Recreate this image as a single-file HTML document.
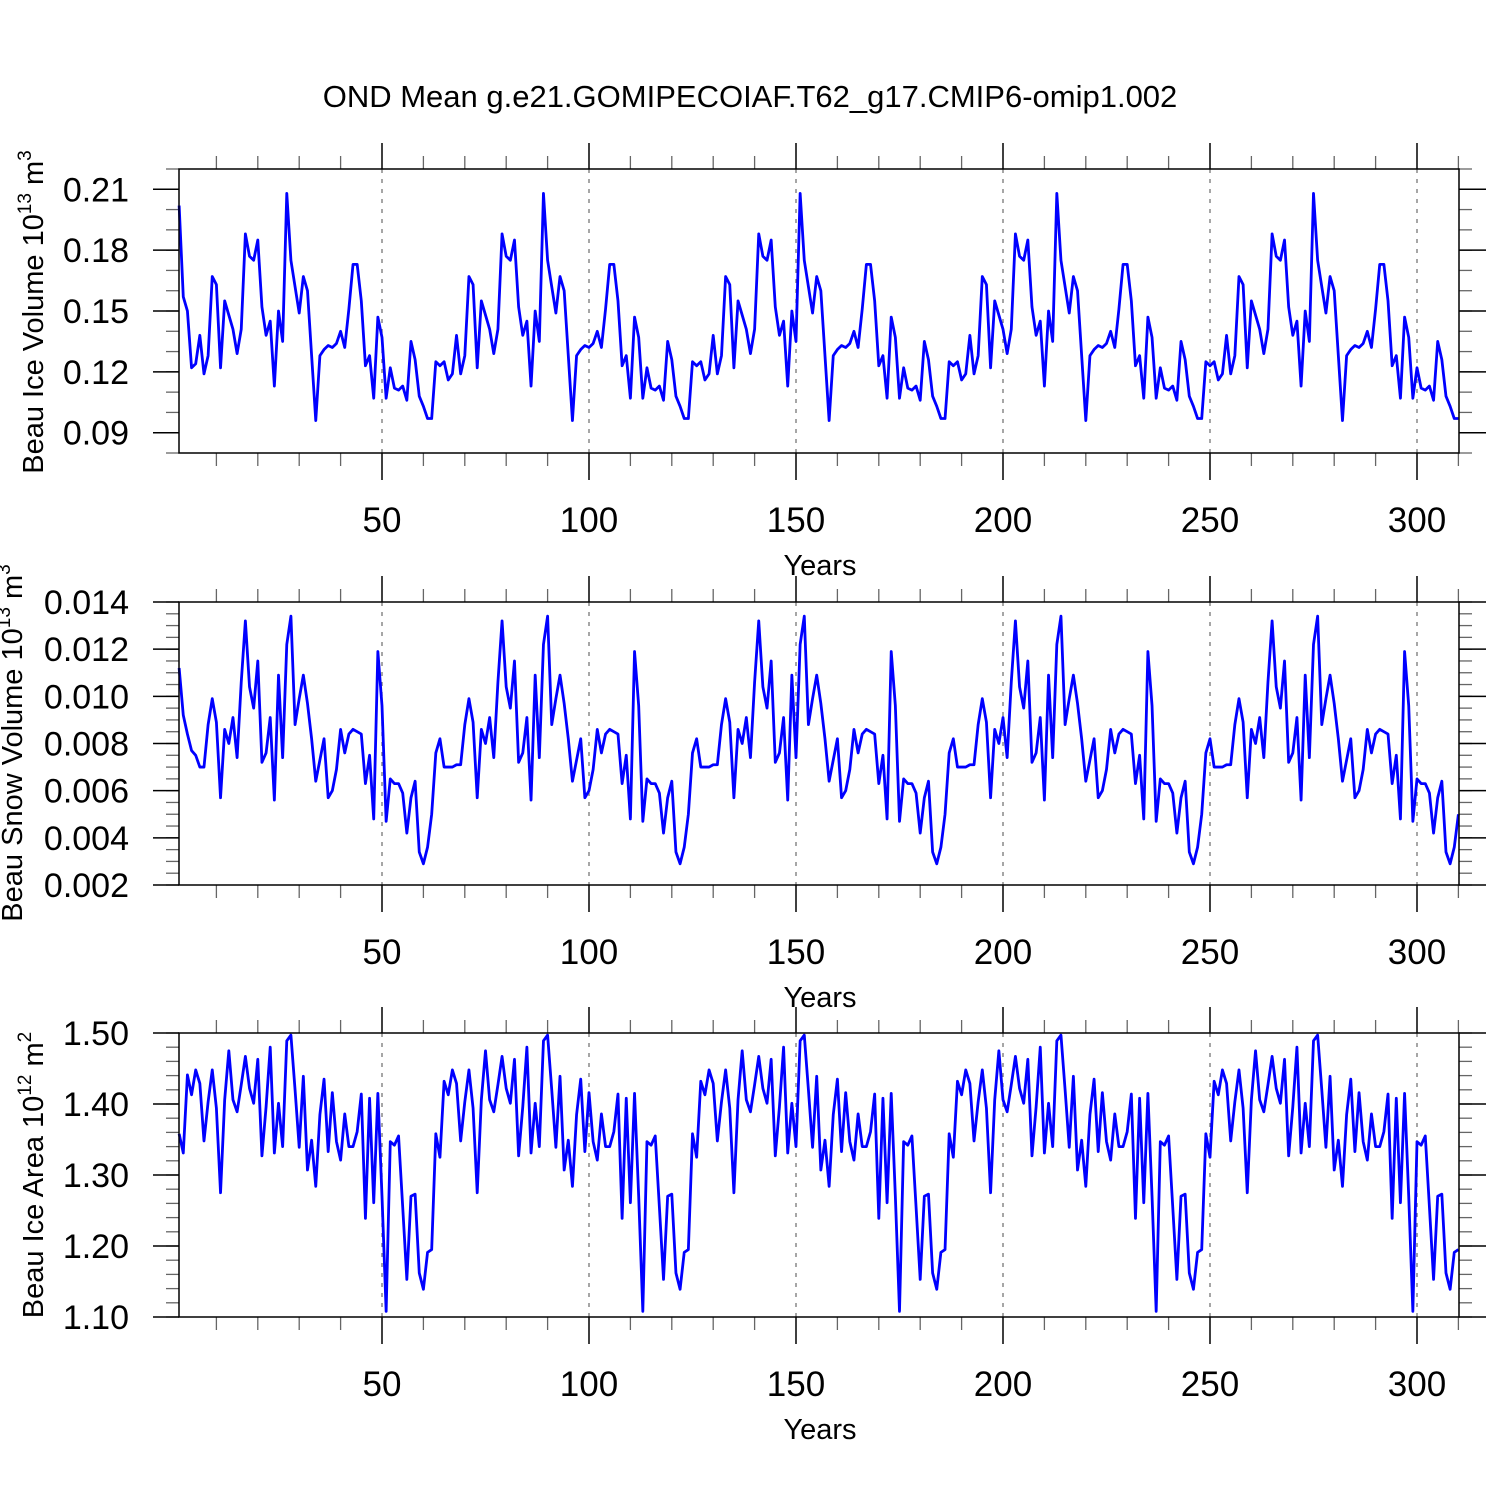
<!DOCTYPE html>
<html><head><meta charset="utf-8"><style>
html,body{margin:0;padding:0;background:#fff;}
svg{display:block;font-family:"Liberation Sans",Arial,sans-serif;}
</style></head><body>
<svg id="chart" width="1500" height="1500" viewBox="0 0 1500 1500" xmlns="http://www.w3.org/2000/svg">
<rect width="1500" height="1500" fill="#fff"/>
<text x="750" y="107" font-size="31" text-anchor="middle">OND Mean g.e21.GOMIPECOIAF.T62_g17.CMIP6-omip1.002</text>
</svg>
<script>
const xTickValues = [50, 100, 150, 200, 250, 300];
const iceVolTicks = [0.09, 0.12, 0.15, 0.18, 0.21];
const iceVolTickLabels = ["0.09", "0.12", "0.15", "0.18", "0.21"];
const snowVolTicks = [0.002, 0.004, 0.006, 0.008, 0.010, 0.012, 0.014];
const snowVolTickLabels = ["0.002", "0.004", "0.006", "0.008", "0.010", "0.012", "0.014"];
const iceAreaTicks = [1.10, 1.20, 1.30, 1.40, 1.50];
const iceAreaTickLabels = ["1.10", "1.20", "1.30", "1.40", "1.50"];

const iceVolume = [
0.202,0.157,0.150,0.122,0.124,0.138,0.119,0.128,0.167,0.163,0.122,0.155,0.148,0.141,0.129,0.141,0.188,0.177,0.175,0.185,0.152,0.138,0.145,0.113,0.150,0.135,0.208,0.175,0.162,0.149,0.167,0.160,0.128,0.096,0.128,0.131,0.133,0.132,0.134,0.140,0.132,0.151,0.173,0.173,0.155,0.123,0.128,0.107,0.147,0.137,0.107,0.122,0.112,0.111,0.113,0.106,0.135,0.126,0.108,0.103,0.097,0.097,
0.125,0.123,0.125,0.116,0.119,0.138,0.119,0.128,0.167,0.163,0.122,0.155,0.148,0.141,0.129,0.141,0.188,0.177,0.175,0.185,0.152,0.138,0.145,0.113,0.150,0.135,0.208,0.175,0.162,0.149,0.167,0.160,0.128,0.096,0.128,0.131,0.133,0.132,0.134,0.140,0.132,0.151,0.173,0.173,0.155,0.123,0.128,0.107,0.147,0.137,0.107,0.122,0.112,0.111,0.113,0.106,0.135,0.126,0.108,0.103,0.097,0.097,
0.125,0.123,0.125,0.116,0.119,0.138,0.119,0.128,0.167,0.163,0.122,0.155,0.148,0.141,0.129,0.141,0.188,0.177,0.175,0.185,0.152,0.138,0.145,0.113,0.150,0.135,0.208,0.175,0.162,0.149,0.167,0.160,0.128,0.096,0.128,0.131,0.133,0.132,0.134,0.140,0.132,0.151,0.173,0.173,0.155,0.123,0.128,0.107,0.147,0.137,0.107,0.122,0.112,0.111,0.113,0.106,0.135,0.126,0.108,0.103,0.097,0.097,
0.125,0.123,0.125,0.116,0.119,0.138,0.119,0.128,0.167,0.163,0.122,0.155,0.148,0.141,0.129,0.141,0.188,0.177,0.175,0.185,0.152,0.138,0.145,0.113,0.150,0.135,0.208,0.175,0.162,0.149,0.167,0.160,0.128,0.096,0.128,0.131,0.133,0.132,0.134,0.140,0.132,0.151,0.173,0.173,0.155,0.123,0.128,0.107,0.147,0.137,0.107,0.122,0.112,0.111,0.113,0.106,0.135,0.126,0.108,0.103,0.097,0.097,
0.125,0.123,0.125,0.116,0.119,0.138,0.119,0.128,0.167,0.163,0.122,0.155,0.148,0.141,0.129,0.141,0.188,0.177,0.175,0.185,0.152,0.138,0.145,0.113,0.150,0.135,0.208,0.175,0.162,0.149,0.167,0.160,0.128,0.096,0.128,0.131,0.133,0.132,0.134,0.140,0.132,0.151,0.173,0.173,0.155,0.123,0.128,0.107,0.147,0.137,0.107,0.122,0.112,0.111,0.113,0.106,0.135,0.126,0.108,0.103,0.097,0.097];

const snowVolume = [
0.0112,0.0092,0.0084,0.0077,0.0075,0.0070,0.0070,0.0088,0.0099,0.0089,0.0057,0.0086,0.0080,0.0091,0.0074,0.0106,0.0132,0.0104,0.0095,0.0115,0.0072,0.0076,0.0091,0.0056,0.0109,0.0074,0.0122,0.0134,0.0088,0.0099,0.0109,0.0097,0.0082,0.0064,0.0073,0.0082,0.0057,0.0060,0.0069,0.0086,0.0076,0.0084,0.0086,0.0085,0.0084,0.0063,0.0075,0.0048,0.0119,0.0096,0.0047,0.0065,0.0063,0.0063,0.0059,0.0042,0.0057,0.0064,0.0034,0.0029,0.0036,0.0050,
0.0076,0.0082,0.0070,0.0070,0.0070,0.0071,0.0071,0.0088,0.0099,0.0089,0.0057,0.0086,0.0080,0.0091,0.0074,0.0106,0.0132,0.0104,0.0095,0.0115,0.0072,0.0076,0.0091,0.0056,0.0109,0.0074,0.0122,0.0134,0.0088,0.0099,0.0109,0.0097,0.0082,0.0064,0.0073,0.0082,0.0057,0.0060,0.0069,0.0086,0.0076,0.0084,0.0086,0.0085,0.0084,0.0063,0.0075,0.0048,0.0119,0.0096,0.0047,0.0065,0.0063,0.0063,0.0059,0.0042,0.0057,0.0064,0.0034,0.0029,0.0036,0.0050,
0.0076,0.0082,0.0070,0.0070,0.0070,0.0071,0.0071,0.0088,0.0099,0.0089,0.0057,0.0086,0.0080,0.0091,0.0074,0.0106,0.0132,0.0104,0.0095,0.0115,0.0072,0.0076,0.0091,0.0056,0.0109,0.0074,0.0122,0.0134,0.0088,0.0099,0.0109,0.0097,0.0082,0.0064,0.0073,0.0082,0.0057,0.0060,0.0069,0.0086,0.0076,0.0084,0.0086,0.0085,0.0084,0.0063,0.0075,0.0048,0.0119,0.0096,0.0047,0.0065,0.0063,0.0063,0.0059,0.0042,0.0057,0.0064,0.0034,0.0029,0.0036,0.0050,
0.0076,0.0082,0.0070,0.0070,0.0070,0.0071,0.0071,0.0088,0.0099,0.0089,0.0057,0.0086,0.0080,0.0091,0.0074,0.0106,0.0132,0.0104,0.0095,0.0115,0.0072,0.0076,0.0091,0.0056,0.0109,0.0074,0.0122,0.0134,0.0088,0.0099,0.0109,0.0097,0.0082,0.0064,0.0073,0.0082,0.0057,0.0060,0.0069,0.0086,0.0076,0.0084,0.0086,0.0085,0.0084,0.0063,0.0075,0.0048,0.0119,0.0096,0.0047,0.0065,0.0063,0.0063,0.0059,0.0042,0.0057,0.0064,0.0034,0.0029,0.0036,0.0050,
0.0076,0.0082,0.0070,0.0070,0.0070,0.0071,0.0071,0.0088,0.0099,0.0089,0.0057,0.0086,0.0080,0.0091,0.0074,0.0106,0.0132,0.0104,0.0095,0.0115,0.0072,0.0076,0.0091,0.0056,0.0109,0.0074,0.0122,0.0134,0.0088,0.0099,0.0109,0.0097,0.0082,0.0064,0.0073,0.0082,0.0057,0.0060,0.0069,0.0086,0.0076,0.0084,0.0086,0.0085,0.0084,0.0063,0.0075,0.0048,0.0119,0.0096,0.0047,0.0065,0.0063,0.0063,0.0059,0.0042,0.0057,0.0064,0.0034,0.0029,0.0036,0.0050];

const iceArea = [
1.358,1.331,1.441,1.413,1.448,1.429,1.348,1.403,1.448,1.394,1.275,1.406,1.475,1.406,1.389,1.427,1.467,1.422,1.401,1.463,1.327,1.396,1.480,1.331,1.401,1.340,1.489,1.497,1.420,1.339,1.439,1.307,1.349,1.284,1.385,1.435,1.333,1.416,1.347,1.321,1.386,1.340,1.340,1.361,1.414,1.239,1.408,1.261,1.415,1.270,1.108,1.347,1.342,1.355,1.255,1.153,1.270,1.273,1.162,1.139,1.191,1.195,
1.358,1.325,1.432,1.413,1.448,1.429,1.348,1.403,1.448,1.394,1.275,1.406,1.475,1.406,1.389,1.427,1.467,1.422,1.401,1.463,1.327,1.396,1.480,1.331,1.401,1.340,1.489,1.497,1.420,1.339,1.439,1.307,1.349,1.284,1.385,1.435,1.333,1.416,1.347,1.321,1.386,1.340,1.340,1.361,1.414,1.239,1.408,1.261,1.415,1.270,1.108,1.347,1.342,1.355,1.255,1.153,1.270,1.273,1.162,1.139,1.191,1.195,
1.358,1.325,1.432,1.413,1.448,1.429,1.348,1.403,1.448,1.394,1.275,1.406,1.475,1.406,1.389,1.427,1.467,1.422,1.401,1.463,1.327,1.396,1.480,1.331,1.401,1.340,1.489,1.497,1.420,1.339,1.439,1.307,1.349,1.284,1.385,1.435,1.333,1.416,1.347,1.321,1.386,1.340,1.340,1.361,1.414,1.239,1.408,1.261,1.415,1.270,1.108,1.347,1.342,1.355,1.255,1.153,1.270,1.273,1.162,1.139,1.191,1.195,
1.358,1.325,1.432,1.413,1.448,1.429,1.348,1.403,1.448,1.394,1.275,1.406,1.475,1.406,1.389,1.427,1.467,1.422,1.401,1.463,1.327,1.396,1.480,1.331,1.401,1.340,1.489,1.497,1.420,1.339,1.439,1.307,1.349,1.284,1.385,1.435,1.333,1.416,1.347,1.321,1.386,1.340,1.340,1.361,1.414,1.239,1.408,1.261,1.415,1.270,1.108,1.347,1.342,1.355,1.255,1.153,1.270,1.273,1.162,1.139,1.191,1.195,
1.358,1.325,1.432,1.413,1.448,1.429,1.348,1.403,1.448,1.394,1.275,1.406,1.475,1.406,1.389,1.427,1.467,1.422,1.401,1.463,1.327,1.396,1.480,1.331,1.401,1.340,1.489,1.497,1.420,1.339,1.439,1.307,1.349,1.284,1.385,1.435,1.333,1.416,1.347,1.321,1.386,1.340,1.340,1.361,1.414,1.239,1.408,1.261,1.415,1.270,1.108,1.347,1.342,1.355,1.255,1.153,1.270,1.273,1.162,1.139,1.191,1.195];

const NS = "http://www.w3.org/2000/svg";
const svg = document.getElementById("chart");
const LEFT = 179, RIGHT = 1459;
function xScale(year) { return 175 + year * 4.14; }

function mk(tag, attrs, parent) {
  const e = document.createElementNS(NS, tag);
  for (const k in attrs) e.setAttribute(k, attrs[k]);
  (parent || svg).appendChild(e);
  return e;
}

function panel(p) {
  const g = mk("g", {});
  
  
  const yScale = v => p.bottom - (v - p.vmin) / (p.vmax - p.vmin) * (p.bottom - p.top);
  xTickValues.forEach(t => {
    const l = mk("line", {x1: xScale(t), x2: xScale(t), y1: p.top, y2: p.bottom, stroke: "#777", "stroke-width": 1.3, "stroke-dasharray": "4 6"}, g);
    
    
  });
  for (let yr = 10; yr <= 310; yr += 10) {
    if (yr % 50 === 0) continue;
    const x = xScale(yr);
    const a = mk("line", {x1: x, x2: x, y1: p.top - 13, y2: p.top, stroke: "#666", "stroke-width": 1.3}, g);
    
    
    const b = mk("line", {x1: x, x2: x, y1: p.bottom, y2: p.bottom + 13, stroke: "#666", "stroke-width": 1.3}, g);
    
    
  }
  xTickValues.forEach(t => {
    const x = xScale(t);
    const a = mk("line", {x1: x, x2: x, y1: p.top - 26, y2: p.top, stroke: "#000", "stroke-width": 1.5}, g);
    
    
    const b = mk("line", {x1: x, x2: x, y1: p.bottom, y2: p.bottom + 27, stroke: "#000", "stroke-width": 1.5}, g);
    
    
    const lab = mk("text", {x: x, y: p.bottom + 79, "font-size": 35, "text-anchor": "middle"}, g);
    lab.textContent = String(t);
    
    
  });
  const xt = mk("text", {x: 820, y: p.bottom + 122, "font-size": 29, "text-anchor": "middle"}, g);
  xt.textContent = "Years";
  
  
  const nMinor = Math.round((p.vmax - p.vmin) / p.minor);
  for (let i = 0; i <= nMinor; i++) {
    const y = yScale(p.vmin + i * p.minor);
    const a = mk("line", {x1: LEFT - 13, x2: LEFT, y1: y, y2: y, stroke: "#666", "stroke-width": 1.3}, g);
    
    
    const b = mk("line", {x1: RIGHT, x2: RIGHT + 13, y1: y, y2: y, stroke: "#666", "stroke-width": 1.3}, g);
    
    
  }
  p.ticks.forEach((t, i) => {
    const y = yScale(t);
    const a = mk("line", {x1: LEFT - 26, x2: LEFT, y1: y, y2: y, stroke: "#000", "stroke-width": 1.5}, g);
    
    
    const b = mk("line", {x1: RIGHT, x2: RIGHT + 27, y1: y, y2: y, stroke: "#000", "stroke-width": 1.5}, g);
    
    
    const lab = mk("text", {x: 129, y: y + 12, "font-size": 34, "text-anchor": "end"}, g);
    lab.textContent = p.labels[i];
    
    
  });
  const pts = p.values.map((v, i) => xScale(i + 1).toFixed(2) + "," + yScale(v).toFixed(2)).join(" ");
  const line = mk("polyline", {points: pts, fill: "none", stroke: "#0000ff", "stroke-width": 2.8, "stroke-linejoin": "round"}, g);
  
  
  const fr = mk("rect", {x: LEFT, y: p.top, width: RIGHT - LEFT, height: p.bottom - p.top, fill: "none", stroke: "#000", "stroke-width": 1.5}, g);
  
  
  const yt = mk("text", {x: 0, y: 0, "font-size": 29, "text-anchor": "middle", transform: "translate(" + p.titleX + "," + p.titleY + ") rotate(-90)"}, g);
  
  
  yt.innerHTML = p.titleMain + ' 10<tspan font-size="19" dy="-12">' + p.exp + '</tspan><tspan dy="12"> m</tspan><tspan font-size="19" dy="-12">' + p.unitExp + '</tspan>';
}

panel({name: "ice-volume-panel", top: 169, bottom: 453, vmin: 0.08, vmax: 0.22, minor: 0.01,
  ticks: iceVolTicks, labels: iceVolTickLabels, values: iceVolume,
  titleMain: "Beau Ice Volume", exp: "13", unitExp: "3", titleX: 43, titleY: 312});
panel({name: "snow-volume-panel", top: 602, bottom: 885, vmin: 0.002, vmax: 0.014, minor: 0.0005,
  ticks: snowVolTicks, labels: snowVolTickLabels, values: snowVolume,
  titleMain: "Beau Snow Volume", exp: "13", unitExp: "3", titleX: 22, titleY: 743});
panel({name: "ice-area-panel", top: 1033, bottom: 1317, vmin: 1.10, vmax: 1.50, minor: 0.02,
  ticks: iceAreaTicks, labels: iceAreaTickLabels, values: iceArea,
  titleMain: "Beau Ice Area", exp: "12", unitExp: "2", titleX: 43, titleY: 1175});
</script>
</body></html>
